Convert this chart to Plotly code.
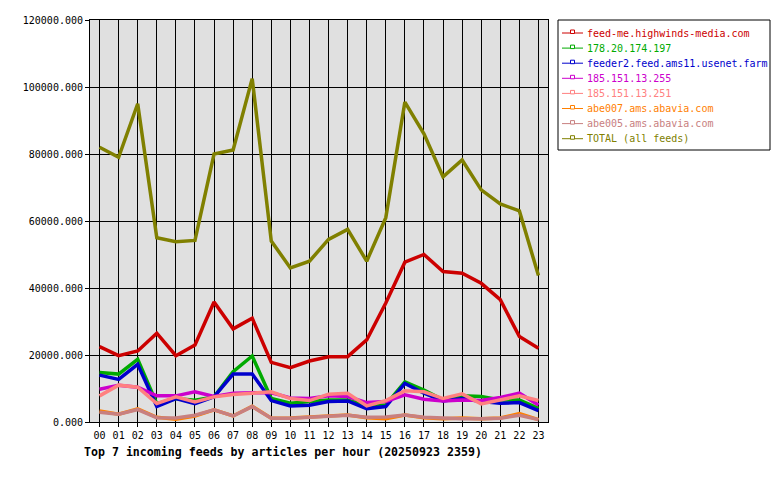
import plotly.graph_objects as go

hours = ["%02d" % h for h in range(24)]

names = [
    "feed-me.highwinds-media.com",
    "178.20.174.197",
    "feeder2.feed.ams11.usenet.farm",
    "185.151.13.255",
    "185.151.13.251",
    "abe007.ams.abavia.com",
    "abe005.ams.abavia.com",
    "TOTAL (all feeds)",
]
colors = ["#cc0000", "#00aa00", "#0000cc", "#cc00cc", "#ff8080", "#ff8000", "#c88080", "#808000"]

feed_me = [22500, 19800, 21200, 26500, 19800, 23000, 35800, 27800, 31000, 17800, 16200, 18200,
           19500, 19500, 24500, 35500, 47700, 50000, 44900, 44400, 41400, 36500, 25500, 22000]
ip_178 = [14800, 14300, 18700, 5500, 7000, 6500, 7500, 15000, 19700, 7000, 5600, 6000,
          6600, 6600, 4800, 5100, 12000, 9500, 6600, 7800, 7600, 6600, 6600, 4100]
feeder2 = [14000, 12700, 17200, 4600, 7000, 5500, 7500, 14300, 14300, 6400, 4800, 5000,
           6100, 6300, 4000, 4600, 11500, 8600, 6300, 7000, 6100, 5600, 5800, 3400]
ip_255 = [9800, 11000, 10400, 7800, 7800, 9000, 7600, 8600, 8700, 8700, 7200, 7000,
          7800, 7600, 5800, 6100, 8100, 6800, 6300, 6600, 6400, 7300, 8600, 5100]
ip_251 = [7800, 11000, 10400, 5500, 7500, 6000, 7500, 8200, 8600, 9000, 7000, 6400,
          8300, 8600, 4800, 6400, 9300, 9000, 7000, 8400, 5400, 6600, 7800, 6400]
abe007 = [3300, 2300, 3900, 1400, 800, 1800, 3600, 1800, 4700, 1100, 1200, 1500,
          1800, 2100, 1300, 1000, 2100, 1300, 1000, 1200, 1000, 1200, 2500, 700]
abe005 = [2900, 2300, 3700, 1300, 1200, 2000, 3600, 1800, 4600, 1100, 1100, 1300,
          1700, 2000, 1400, 1500, 2100, 1400, 1100, 1000, 1000, 1100, 2000, 700]
total = [82000, 79000, 95000, 55000, 53800, 54200, 80000, 81200, 102500, 54000, 46000, 48000,
         54500, 57500, 48000, 61000, 95500, 86000, 73200, 78200, 69300, 65100, 63000, 43700]

series = [feed_me, ip_178, feeder2, ip_255, ip_251, abe007, abe005, total]

FONT = "DejaVu Sans Mono"

# plot area in pixels
L, R, T, B = 90, 548, 20, 422
W, H = 780, 480


def px(X):
    return (X - L) / (R - L)


def py(Y):
    return (B - Y) / (B - T)


fig = go.Figure()
for name, col, vals in zip(names, colors, series):
    fig.add_trace(go.Scatter(
        x=list(range(24)), y=vals, name=name, mode="lines",
        line=dict(color=col, width=3.5), showlegend=False,
        hovertemplate="%{y}<extra>" + name + "</extra>",
    ))

shapes = []
annotations = []
# legend box
shapes.append(dict(type="rect", xref="paper", yref="paper",
                   x0=px(558), x1=px(770), y0=py(150), y1=py(20),
                   line=dict(color="black", width=1), fillcolor="white", layer="above"))
for i, (name, col) in enumerate(zip(names, colors)):
    yc = 33 + i * 15.1
    shapes.append(dict(type="line", xref="paper", yref="paper",
                       x0=px(562), x1=px(583), y0=py(yc), y1=py(yc),
                       line=dict(color=col, width=1), layer="above"))
    shapes.append(dict(type="rect", xref="paper", yref="paper",
                       x0=px(570.5), x1=px(574.5), y0=py(yc + 0.5), y1=py(yc - 3),
                       line=dict(color=col, width=1), fillcolor="white", layer="above"))
    annotations.append(dict(text=name, xref="paper", yref="paper",
                            x=px(585), y=py(yc), xanchor="left", yanchor="middle",
                            showarrow=False, font=dict(family=FONT, size=10, color=col)))

annotations.append(dict(text="<b>Top 7 incoming feeds by articles per hour (20250923 2359)</b>",
                        xref="paper", yref="paper", x=px(82), y=py(452),
                        xanchor="left", yanchor="middle", showarrow=False,
                        font=dict(family=FONT, size=11.6, color="black")))

fig.update_layout(
    width=W, height=H,
    margin=dict(l=L, r=W - R, t=T, b=H - B, pad=0),
    paper_bgcolor="white", plot_bgcolor="#e0e0e0",
    font=dict(family=FONT, size=10, color="black"),
    shapes=shapes, annotations=annotations,
    showlegend=False,
)
fig.update_xaxes(
    range=[-0.5, 23.5], tickmode="array", tickvals=list(range(24)), ticktext=hours,
    showgrid=True, gridcolor="black", gridwidth=1,
    showline=True, linecolor="black", linewidth=1, mirror=True,
    ticks="outside", ticklen=4, tickcolor="black", zeroline=False,
    tickfont=dict(family=FONT, size=10, color="black"),
)
fig.update_yaxes(
    range=[0, 120000], dtick=20000, tick0=0, tickformat=".3f",
    showgrid=True, gridcolor="black", gridwidth=1,
    showline=True, linecolor="black", linewidth=1, mirror=True,
    ticks="outside", ticklen=4, tickcolor="black", zeroline=False,
    tickfont=dict(family=FONT, size=10, color="black"),
)

fig.write_html("out.html")
